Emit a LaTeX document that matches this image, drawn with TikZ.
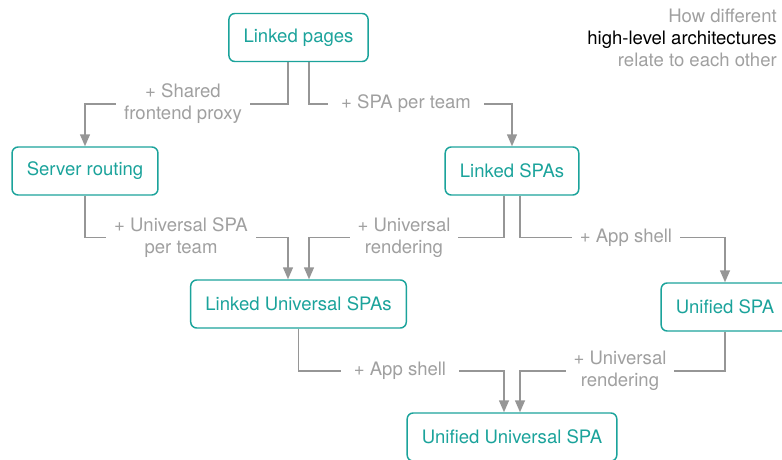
\documentclass[tikz,border=0pt]{standalone}
\usepackage{fontspec}
\setmainfont{TeX Gyre Heros}
\usetikzlibrary{arrows.meta, positioning, backgrounds, calc}
\definecolor{arch}{RGB}{27,163,155}
\definecolor{linie}{RGB}{150,150,150}
\definecolor{schrift}{RGB}{160,160,160}
\newcommand{\schrift}{\fontsize{13.9}{16.5}\selectfont}
\tikzset{
  box/.style={draw=arch, text=arch, rounded corners=4.5pt, line width=1.1pt, align=center, inner xsep=11pt, minimum height=36pt, font=\schrift},
  merkmal/.style={fill=white, text=schrift, align=center, inner xsep=6pt, inner ysep=1pt, font=\schrift},
  pfeil/.style={-{Triangle[length=9pt, width=7.5pt]}, line width=1.1pt, draw=linie},
}

\begin{document}
\begin{tikzpicture}[x=0.75pt, y=-0.75pt]
    \useasboundingbox (0,0) rectangle (782,460);
    \node[box] (lp) at (298.5,37.5) {Linked pages};
    \node[box] (sr) at (85,171) {Server routing};
    \node[box] (ls) at (512,171) {Linked SPAs};
    \node[box] (lu) at (298.5,304) {Linked Universal SPAs};
    \node[box] (us) at (725,307) {Unified SPA};
    \node[box] (uu) at (512,437) {Unified Universal SPA};
    \node[merkmal] (m1) at (183,104) {+ Shared\\frontend proxy};
    \node[merkmal, inner xsep=10pt] (m2) at (406,104) {+ SPA per team};
    \node[merkmal] (m3) at (181,237.5) {+ Universal SPA\\per team};
    \node[merkmal] (m4) at (404,237.5) {+ Universal\\rendering};
    \node[merkmal] (m5) at (626,237.5) {+ App shell};
    \node[merkmal, inner xsep=10pt] (m6) at (400,371) {+ App shell};
    \node[merkmal] (m7) at (620,371) {+ Universal\\rendering};
    \node[anchor=north east, align=right, inner sep=0pt, text=schrift, font=\fontsize{13.9}{16.3}\selectfont] (titel) at (777,9)
      {How different\\\textcolor{black}{high-level architectures}\\relate to each other};
    \begin{scope}[on background layer]
      \draw[pfeil] ($(lp.south)+(-10.5,0)$) |- (m1.center) -| (sr.north);
      \draw[pfeil] ($(lp.south)+(10.5,0)$) |- (m2.center) -| (ls.north);
      \draw[pfeil] (sr.south) |- (m3.center) -| ($(lu.north)+(-10.5,0)$);
      \draw[pfeil] ($(ls.south)+(-8,0)$) |- (m4.center) -| ($(lu.north)+(10.5,0)$);
      \draw[pfeil] ($(ls.south)+(8,0)$) |- (m5.center) -| (us.north);
      \draw[pfeil] (lu.south) |- (m6.center) -| ($(uu.north)+(-8,0)$);
      \draw[pfeil] (us.south) |- (m7.center) -| ($(uu.north)+(8,0)$);
    \end{scope}
  \end{tikzpicture}
\end{document}
